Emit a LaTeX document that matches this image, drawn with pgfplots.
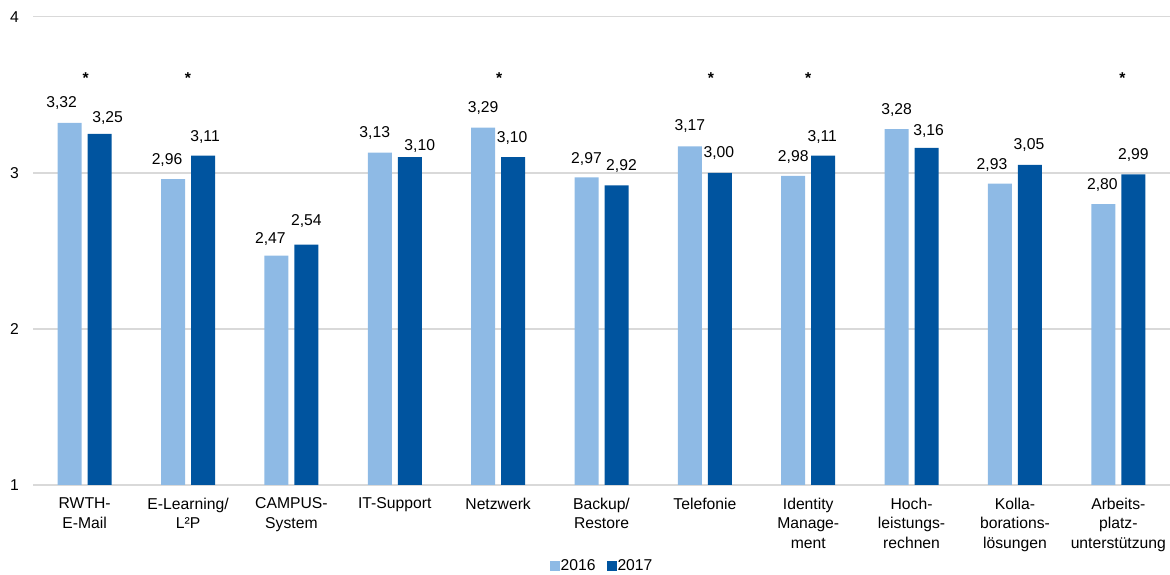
\documentclass[border=0pt]{standalone}
\usepackage{fontspec}
\setmainfont{Liberation Sans}
\usepackage{pgfplots}
\usepackage{pgfplotstable}
\pgfplotsset{compat=1.18}

\definecolor{c16}{HTML}{8EBAE5}
\definecolor{c17}{HTML}{00549F}
\definecolor{gridgray}{HTML}{D9D9D9}

\newcommand{\chartfont}{\fontsize{15.7}{19.5}\selectfont}
\newcommand{\sigmark}{\textbf{*}}

% x, value, label offsets (dx, dy in pt)
\pgfplotstableread{
x  y     dx  dy
0  3.32  -8  21
1  2.96  -6  20
2  2.47  -6  18
3  3.13  -5  21
4  3.29   0  21
5  2.97   0  20
6  3.17   0  21
7  2.98   0  20
8  3.28   0  20
9  2.93  -8  20
10 2.80  -1  20
}\dataA

\pgfplotstableread{
x  y     dx  dy
0  3.25   8  17
1  3.11   2  20
2  2.54   0  25
3  3.10  10  12
4  3.10  -1  20
5  2.92   5  20
6  3.00  -1  21
7  3.11  -1  20
8  3.16   2  18
9  3.05  -1  21
10 2.99   0  20
}\dataB

% significance markers
\pgfplotstableread{
x  y     dx  dy
0  3.57  1   0
1  3.57  0   0
4  3.57  1   0
6  3.57  6   0
7  3.57  0   0
10 3.57  4   0
}\dataSig

% value labels; #1 = horizontal offset of the bar from the category centre
\pgfplotsset{
  valuelabels/.style={
    visualization depends on={\thisrow{dx} \as \lx},
    visualization depends on={\thisrow{dy} \as \ly},
    nodes near coords={\pgfmathprintnumber[fixed, fixed zerofill, precision=2, use comma]{\pgfplotspointmeta}},
    every node near coord/.append style={font=\chartfont, text=black, anchor=base, inner sep=0pt,
      xshift=(\lx+#1)*1pt, yshift=(\ly-5.6)*1pt}
  }
}

\begin{document}
\begin{tikzpicture}
\path[use as bounding box] (-33pt,-90pt) rectangle (1137pt,485pt);
\begin{axis}[
  scale only axis,
  width=1137pt, height=468.3pt,
  xmin=-0.5, xmax=10.5,
  ymin=1, ymax=4,
  ytick={1,2,3,4},
  xtick={0,...,10},
  xticklabels={{RWTH-\\E-Mail},{E-Learning/\\L²P},{CAMPUS-\\System},{IT-Support},{Netzwerk},{Backup/\\Restore},{Telefonie},{Identity\\Manage-\\ment},{Hoch-\\leistungs-\\rechnen},{Kolla-\\borations-\\lösungen},{Arbeits-\\platz-\\unterstützung}},
  /pgf/number format/assume math mode=true,
  major tick length=0pt,
  axis line style={draw=none},
  ymajorgrids,
  grid style={gridgray, line width=1.5pt},
  every tick label/.append style={font=\chartfont},
  yticklabel style={anchor=east, inner sep=0pt, xshift=-14pt},
  xticklabel style={align=center, anchor=north, inner sep=0pt, yshift=-12.5pt},
  legend columns=2,
  legend style={at={(0.5,-0.173)}, anchor=center, draw=none, fill=none,
    inner sep=0pt, font=\chartfont,
    nodes={inner sep=0.5pt},
    /tikz/every even column/.append style={column sep=11pt}},
]
\addplot[ybar, bar width=24pt, bar shift=-15pt, fill=c16, draw=none,
  legend image code/.code={\fill[c16] (0pt,-5pt) rectangle (10pt,5pt);},
  valuelabels=-15]
  table[x=x, y=y] {\dataA};
\addlegendentry{2016}
\addplot[ybar, bar width=24pt, bar shift=15pt, fill=c17, draw=none,
  legend image code/.code={\fill[c17] (0pt,-5pt) rectangle (10pt,5pt);},
  valuelabels=15]
  table[x=x, y=y] {\dataB};
\addlegendentry{2017}
\addplot[draw=none, mark=none, forget plot,
  visualization depends on={\thisrow{dx} \as \sx},
  nodes near coords={\sigmark},
  every node near coord/.append style={font=\chartfont, text=black, anchor=base, inner sep=0pt,
    xshift=\sx*1pt}]
  table[x=x, y=y] {\dataSig};
\end{axis}
\end{tikzpicture}
\end{document}
